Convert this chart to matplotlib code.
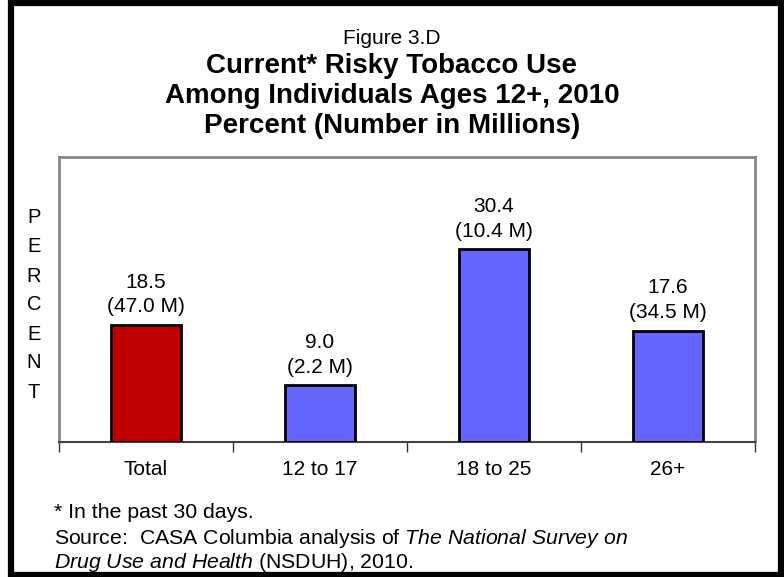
import matplotlib
matplotlib.use("Agg")
import matplotlib.pyplot as plt
from matplotlib.patches import Rectangle

plt.rcParams['font.family'] = ['Liberation Sans', 'DejaVu Sans']
plt.rcParams['mathtext.fontset'] = 'custom'
plt.rcParams['mathtext.rm'] = 'Liberation Sans'
plt.rcParams['mathtext.it'] = 'Liberation Sans:italic'

categories = ["Total", "12 to 17", "18 to 25", "26+"]
percents = [18.5, 9.0, 30.4, 17.6]
millions = ["47.0", "2.2", "10.4", "34.5"]
colors = ["#C00000", "#6666FF", "#6666FF", "#6666FF"]

fig = plt.figure(figsize=(7.84, 5.77), dpi=100)
W, H = 784, 577

# outer frame
fig.patches.append(Rectangle((11 / W, 2.5 / H), 770 / W, 572 / H, transform=fig.transFigure,
                             fill=False, edgecolor="black", linewidth=4.5))

fig.text(0.5, 1 - 38 / H, "Figure 3.D", ha="center", va="center", fontsize=15)
fig.text(0.5, 1 - 96 / H, "Current* Risky Tobacco Use\nAmong Individuals Ages 12+, 2010\nPercent (Number in Millions)",
         ha="center", va="center", fontsize=20, fontweight="bold", linespacing=1.19)

ax = fig.add_axes([59 / W, 1 - 442 / H, (755 - 59) / W, (442 - 157) / H])
x = list(range(len(categories)))
bars = ax.bar(x, percents, width=0.4, color=colors, edgecolor="black", linewidth=2, zorder=3)
for xi, p, m in zip(x, percents, millions):
    ax.annotate(f"{p:.1f}\n({m} M)", (xi, p), xytext=(0, 6), textcoords="offset points",
                ha="center", va="bottom", fontsize=15, linespacing=1.38)

ax.set_xlim(-0.5, 3.5)
ax.set_ylim(0, 45)
ax.set_yticks([])
ax.set_xticks([-0.5, 0.5, 1.5, 2.5, 3.5], minor=False)
ax.set_xticklabels([])
ax.tick_params(axis="x", length=7, width=1, color="#333333", direction="out")
ax.set_xticks(x, minor=True)
ax.set_xticklabels(categories, minor=True, fontsize=15)
ax.tick_params(axis="x", which="minor", length=0, pad=13)
for side in ["top", "right", "left"]:
    ax.spines[side].set_color("#888888")
    ax.spines[side].set_linewidth(2)
ax.spines["bottom"].set_color("#444444")
ax.spines["bottom"].set_linewidth(1.5)

for i, ch in enumerate("PERCENT"):
    fig.text(34 / W, 1 - (218 + i * 29) / H, ch, ha="center", va="center", fontsize=14.5)

fig.text(54 / W, 1 - 512 / H, "* In the past 30 days.", ha="left", va="center", fontsize=15.3)
fig.text(54 / W, 1 - 538 / H, "Source:  CASA Columbia analysis of $\\it{The\\ National\\ Survey\\ on}$",
         ha="left", va="center", fontsize=15.3)
fig.text(54 / W, 1 - 562 / H, "$\\it{Drug\\ Use\\ and\\ Health}$ (NSDUH), 2010.", ha="left", va="center", fontsize=15.3)

fig.savefig("out.png", dpi=100)
